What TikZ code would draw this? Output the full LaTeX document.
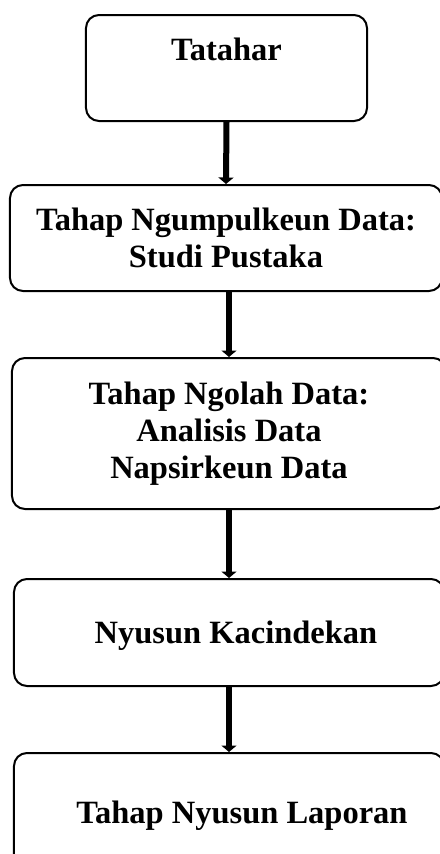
\documentclass[tikz,border=0pt]{standalone}
\usepackage{fontspec}
\setmainfont{Liberation Serif}
\usepackage{tikz}
\usetikzlibrary{arrows.meta}

\begin{document}
\begin{tikzpicture}[x=0.4pt, y=-0.4pt, font=\fontsize{13}{14.8}\selectfont\bfseries,
  tahap/.style={rectangle, rounded corners=5.2pt, draw=black, line width=0.8pt, inner sep=0pt, align=center},
  panah/.style={line width=2.4pt, -{Triangle[width=6pt, length=2.6pt]}}]

\clip (0,0) rectangle (440,854);

\node [tahap, minimum width=112.4pt, minimum height=42.4pt] (ta) at (226.5,68) {Tatahar\\ \mbox{}};

\node [tahap, minimum width=172.8pt, minimum height=42.4pt] (ng) at (226,238) {Tahap Ngumpulkeun Data:\\ Studi Pustaka};

\node [tahap, minimum width=173.6pt, minimum height=60.4pt] (ol) at (229,433.5) {Tahap Ngolah Data:\\ Analisis Data\\ Napsirkeun Data};

\node [tahap, minimum width=172pt, minimum height=42.8pt, text depth=0pt] (ny) at (229,632.5) {\hspace*{5.6pt}Nyusun Kacindekan};

\node [tahap, minimum width=172pt, minimum height=47.2pt, text depth=0pt] (la) at (229,812) {\hspace*{10.4pt}Tahap Nyusun Laporan};

\draw [panah] (ta.south) -- (ng.north);
\draw [panah] (ol.north |- ng.south) -- (ol.north);
\draw [panah] (ol.south) -- (ny.north);
\draw [panah] (ny.south) -- (la.north);

\end{tikzpicture}
\end{document}
